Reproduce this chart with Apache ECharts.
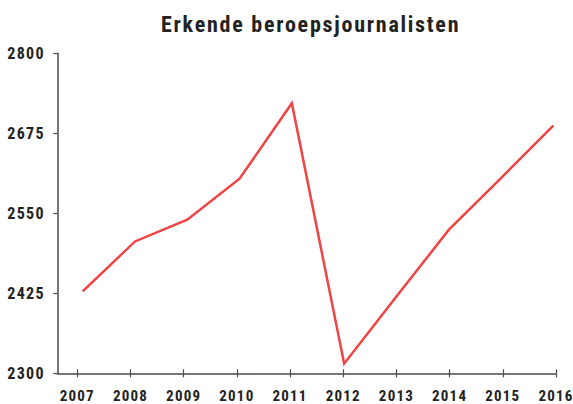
<!DOCTYPE html>
<html><head><meta charset="utf-8">
<script src="https://cdn.jsdelivr.net/npm/echarts@6/dist/echarts.min.js"></script>
<style>
html,body{margin:0;padding:0;background:#fff}
#c{width:573px;height:404px}
#c text{letter-spacing:0.08em}
</style>
</head><body><div id="c"></div>
<script>
const titleText = 'Erkende beroepsjournalisten';
const years = [2007, 2008, 2009, 2010, 2011, 2012, 2013, 2014, 2015, 2016];
const values = [2428, 2506, 2540, 2604, 2722, 2315, 2420, 2524, 2605, 2687];
const yTicks = [2300, 2425, 2550, 2675, 2800];

const FONT = "'Roboto Condensed', 'Liberation Sans Narrow', sans-serif";
const AX = '#4a4a4a';
const TXT = '#222';

const chart = echarts.init(document.getElementById('c'), null, {renderer: 'svg'});
chart.setOption({
  animation: false,
  backgroundColor: '#fff',
  title: {
    text: titleText,
    left: 156, top: 8,
    textStyle: {fontFamily: FONT, fontWeight: 'bold', fontSize: 22, color: TXT}
  },
  grid: {left: 57.3, right: 17, top: 53.3, bottom: 30.7, outerBoundsMode: 'none', containLabel: false},
  xAxis: [
    {
      type: 'value', position: 'bottom', min: 2006.624, max: 2016,
      axisLine: {show: true, lineStyle: {color: AX, width: 1.5}},
      axisTick: {show: true, customValues: years, length: 4, lineStyle: {color: AX, width: 1.2}},
      axisLabel: {customValues: years, formatter: v => String(v), margin: 15,
        fontFamily: FONT, fontWeight: 'bold', fontSize: 15, color: TXT},
      splitLine: {show: false}
    },
    {
      type: 'value', position: 'bottom', min: 2006.514, max: 2016.052, show: false
    },
    {
      type: 'value', position: 'bottom', min: 2006.624, max: 2016,
      axisLine: {show: false},
      axisTick: {show: true, inside: true, customValues: years, length: 4, lineStyle: {color: AX, width: 1.2}},
      axisLabel: {show: false},
      splitLine: {show: false}
    }
  ],
  yAxis: {
    type: 'value', min: 2300, max: 2800, interval: 125,
    axisLine: {show: true, lineStyle: {color: AX, width: 1.5}},
    axisTick: {show: true, customValues: yTicks, length: 4, lineStyle: {color: AX, width: 1.2}},
    axisLabel: {customValues: yTicks, formatter: v => String(v), margin: 12.5,
      fontFamily: FONT, fontWeight: 'bold', fontSize: 16, color: TXT},
    splitLine: {show: false}
  },
  series: [{
    type: 'line',
    xAxisIndex: 1,
    data: years.map((y, i) => [y, values[i]]),
    symbol: 'none',
    lineStyle: {color: '#ef4444', width: 2.5, join: 'miter'},
    silent: true
  }]
});
</script>
</body></html>
